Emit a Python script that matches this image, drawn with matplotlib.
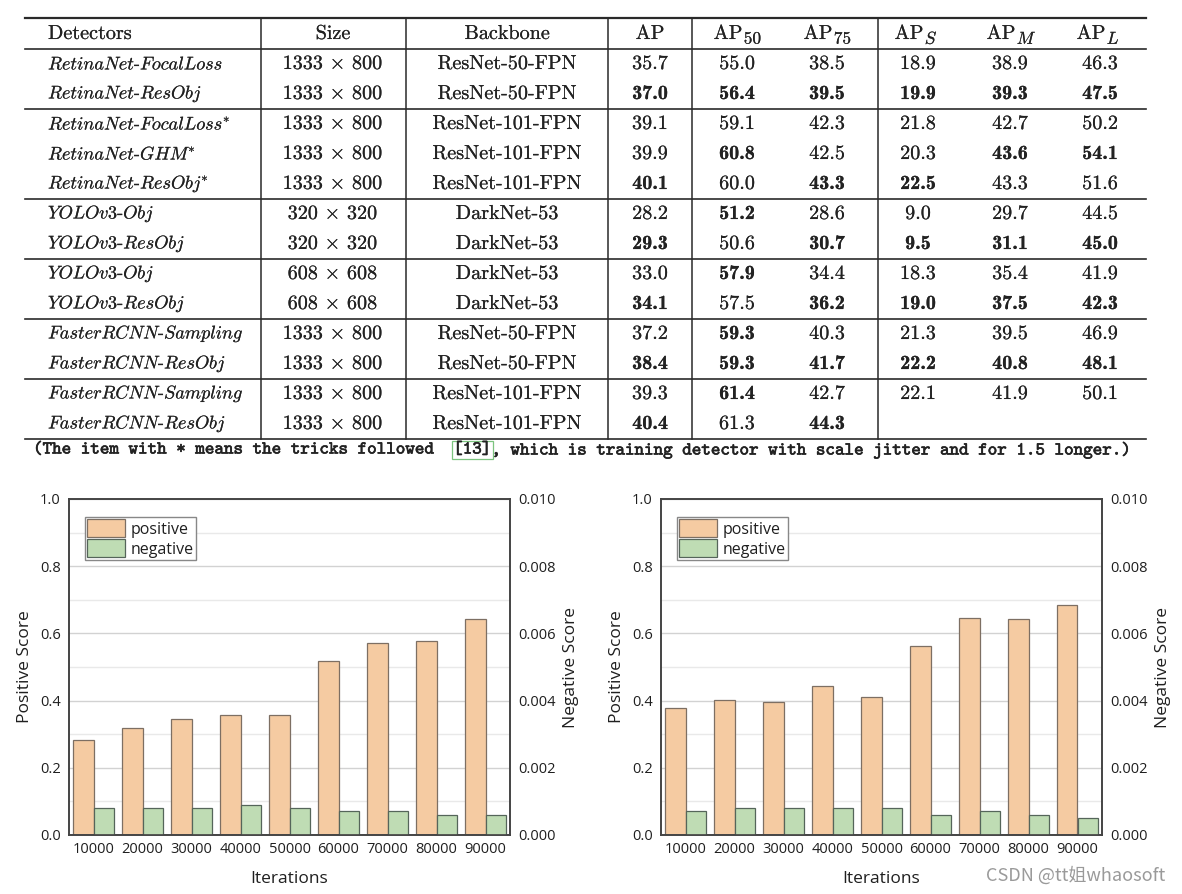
import matplotlib
matplotlib.use('Agg')
import matplotlib.pyplot as plt
import matplotlib.patheffects as pe
import numpy as np
from matplotlib.ticker import FormatStrFormatter

plt.rcParams['mathtext.fontset'] = 'cm'
plt.rcParams['font.family'] = ['Open Sans', 'DejaVu Sans']

# ---------------- table data ----------------
header = ['Detectors', 'Size', 'Backbone', 'AP', 'AP', 'AP', 'AP', 'AP', 'AP']
header_sub = ['', '', '', '', '50', '75', '$S$', '$M$', '$L$']
detectors = ['RetinaNet-FocalLoss', 'RetinaNet-ResObj',
             'RetinaNet-FocalLoss*', 'RetinaNet-GHM*', 'RetinaNet-ResObj*',
             'YOLOv3-Obj', 'YOLOv3-ResObj',
             'YOLOv3-Obj', 'YOLOv3-ResObj',
             'FasterRCNN-Sampling', 'FasterRCNN-ResObj',
             'FasterRCNN-Sampling', 'FasterRCNN-ResObj']
sizes = ['1333 x 800', '1333 x 800', '1333 x 800', '1333 x 800', '1333 x 800',
         '320 x 320', '320 x 320', '608 x 608', '608 x 608',
         '1333 x 800', '1333 x 800', '1333 x 800', '1333 x 800']
backbones = ['ResNet-50-FPN', 'ResNet-50-FPN',
             'ResNet-101-FPN', 'ResNet-101-FPN', 'ResNet-101-FPN',
             'DarkNet-53', 'DarkNet-53', 'DarkNet-53', 'DarkNet-53',
             'ResNet-50-FPN', 'ResNet-50-FPN', 'ResNet-101-FPN', 'ResNet-101-FPN']
ap = ['35.7', '37.0', '39.1', '39.9', '40.1', '28.2', '29.3', '33.0', '34.1', '37.2', '38.4', '39.3', '40.4']
ap50 = ['55.0', '56.4', '59.1', '60.8', '60.0', '51.2', '50.6', '57.9', '57.5', '59.3', '59.3', '61.4', '61.3']
ap75 = ['38.5', '39.5', '42.3', '42.5', '43.3', '28.6', '30.7', '34.4', '36.2', '40.3', '41.7', '42.7', '44.3']
aps = ['18.9', '19.9', '21.8', '20.3', '22.5', '9.0', '9.5', '18.3', '19.0', '21.3', '22.2', '22.1', '']
apm = ['38.9', '39.3', '42.7', '43.6', '43.3', '29.7', '31.1', '35.4', '37.5', '39.5', '40.8', '41.9', '']
apl = ['46.3', '47.5', '50.2', '54.1', '51.6', '44.5', '45.0', '41.9', '42.3', '46.9', '48.1', '50.1', '']
ap_bold = [0, 1, 0, 0, 1, 0, 1, 0, 1, 0, 1, 0, 1]
ap50_bold = [0, 1, 0, 1, 0, 1, 0, 1, 0, 1, 1, 1, 0]
ap75_bold = [0, 1, 0, 0, 1, 0, 1, 0, 1, 0, 1, 0, 1]
aps_bold = [0, 1, 0, 0, 1, 0, 1, 0, 1, 0, 1, 0, 0]
apm_bold = [0, 1, 0, 1, 0, 0, 1, 0, 1, 0, 1, 0, 0]
apl_bold = [0, 1, 0, 1, 0, 0, 1, 0, 1, 0, 1, 0, 0]
group_ends = [2, 5, 7, 9, 11, 13]
footnote_pre = '(The item with * means the tricks followed  '
footnote_ref = '[13]'
footnote_post = ', which is training detector with scale jitter and for 1.5 longer.)'

# ---------------- bar data ----------------
iterations = ['10000', '20000', '30000', '40000', '50000', '60000', '70000', '80000', '90000']
pos_left = [0.282, 0.318, 0.345, 0.358, 0.357, 0.517, 0.570, 0.577, 0.644]
neg_left = [0.0008, 0.0008, 0.0008, 0.0009, 0.0008, 0.0007, 0.0007, 0.0006, 0.0006]
pos_right = [0.378, 0.403, 0.395, 0.443, 0.411, 0.562, 0.647, 0.643, 0.686]
neg_right = [0.0007, 0.0008, 0.0008, 0.0008, 0.0008, 0.0006, 0.0007, 0.0006, 0.0005]

W, H = 1182, 894
fig = plt.figure(figsize=(W / 100, H / 100), dpi=100)

# ---------------- table ----------------
axt = fig.add_axes([0, 0, 1, 1])
axt.set_xlim(0, W)
axt.set_ylim(H, 0)
axt.axis('off')

line_c = '#2a2a2a'
x_left, x_right = 25, 1146
y_top, y_head = 18, 49
row_h = 30
vlines = [261, 406, 608, 692, 878]
axt.plot([x_left, x_right], [y_top, y_top], color=line_c, lw=1.6)
axt.plot([x_left, x_right], [y_head, y_head], color=line_c, lw=1.2)
for g in group_ends:
    yy = y_head + g * row_h
    axt.plot([x_left, x_right], [yy, yy], color=line_c, lw=1.2)
y_bot = y_head + group_ends[-1] * row_h
for vx in vlines:
    axt.plot([vx, vx], [y_top, y_bot], color=line_c, lw=1.1)

fs = 14.5
fs_name = 13.2
tc = '#222222'
heavy = [pe.withStroke(linewidth=0.12, foreground=tc)]
col_x = [48, 333, 507, 650, 737, 827, 918, 1010, 1100]
head_y = 34
for i, h in enumerate(header):
    if i == 0:
        axt.text(col_x[i], head_y, h, ha='left', va='center', fontsize=fs,
                 family='cmr10', color=tc, path_effects=heavy)
    elif header_sub[i] == '':
        axt.text(col_x[i], head_y, h, ha='center', va='center', fontsize=fs,
                 family='cmr10', color=tc, path_effects=heavy)
    else:
        t = axt.text(col_x[i] - 9, head_y, h, ha='center', va='center',
                     fontsize=fs, family='cmr10', color=tc, path_effects=heavy)
        axt.annotate(header_sub[i], xy=(1, 0.5), xycoords=t,
                     xytext=(1, -3.5), textcoords='offset points',
                     ha='left', va='center', fontsize=fs * 0.86,
                     family='cmr10', color=tc, path_effects=heavy)


def ital(name):
    star = name.endswith('*')
    base = name.rstrip('*')
    s = '-'.join(r'$\mathit{%s}$' % p for p in base.split('-'))
    if star:
        s += r'$^{*}$'
    return s


metrics = [(ap, ap_bold), (ap50, ap50_bold), (ap75, ap75_bold),
           (aps, aps_bold), (apm, apm_bold), (apl, apl_bold)]
for r in range(len(detectors)):
    yy = y_head + 15 + r * row_h
    axt.text(col_x[0], yy, ital(detectors[r]), ha='left', va='center',
             fontsize=fs_name, family='cmr10', color=tc, path_effects=heavy)
    axt.text(col_x[1], yy, sizes[r].replace(' x ', r' $\times$ '), ha='center',
             va='center', fontsize=fs, family='cmr10', color=tc,
             path_effects=heavy)
    axt.text(col_x[2], yy, backbones[r], ha='center', va='center',
             fontsize=fs, family='cmr10', color=tc, path_effects=heavy)
    for j, (vals, bolds) in enumerate(metrics):
        if vals[r] == '':
            continue
        fam = 'cmb10' if bolds[r] else 'cmr10'
        axt.text(col_x[3 + j], yy, vals[r], ha='center', va='center',
                 fontsize=fs, family=fam, color=tc, path_effects=heavy)

# footnote (typewriter-like, monospaced)
foot_y = 450
fx0, fx1 = 33, 1131
nchar = len(footnote_pre) + len(footnote_ref) + len(footnote_post)
adv = (fx1 - fx0) / nchar
ffs = adv / 0.525 * 72 / 100
foot_heavy = [pe.withStroke(linewidth=0.45, foreground=tc)]
axt.text(fx0, foot_y, footnote_pre, ha='left', va='center', fontsize=ffs,
         family='cmtt10', color=tc, path_effects=foot_heavy)
xr = fx0 + len(footnote_pre) * adv
axt.text(xr, foot_y, footnote_ref, ha='left', va='center', fontsize=ffs,
         family='cmtt10', color=tc, path_effects=foot_heavy,
         bbox=dict(boxstyle='square,pad=0.08', fc='none', ec='#7cc47f', lw=0.9))
xp = xr + len(footnote_ref) * adv
axt.text(xp, foot_y, footnote_post, ha='left', va='center', fontsize=ffs,
         family='cmtt10', color=tc, path_effects=foot_heavy)

# ---------------- bar charts ----------------
pos_color, pos_edge = '#f5cba2', '#7d6f63'
neg_color, neg_edge = '#bfdcb4', '#55655a'
spine_c = '#444444'
txt_c = '#1f1f1f'


def bar_panel(rect, pos, neg):
    ax = fig.add_axes(rect)
    x = np.arange(len(iterations))
    w = 0.41
    ax.set_xlim(-0.5, len(iterations) - 0.5)
    ax.set_ylim(0, 1.0)
    ax.set_yticks(np.arange(0, 1.01, 0.2))
    ax.set_yticks(np.arange(0.1, 1.0, 0.2), minor=True)
    ax.yaxis.set_major_formatter(FormatStrFormatter('%.1f'))
    ax.grid(axis='y', which='major', color='#d2d2d2', lw=1.0)
    ax.grid(axis='y', which='minor', color='#e9e9e9', lw=1.0)
    ax.set_axisbelow(True)
    b1 = ax.bar(x - w / 2, pos, w, color=pos_color, edgecolor=pos_edge, lw=0.9)
    ax.set_xticks(x)
    ax.set_xticklabels(iterations)
    ax.tick_params(axis='both', which='both', length=0, labelsize=10.5,
                   colors=txt_c)
    ax.tick_params(axis='x', pad=5)
    ax.tick_params(axis='y', pad=6)
    ax.set_xlabel('Iterations', fontsize=12.5, labelpad=10, color=txt_c)
    ax.set_ylabel('Positive Score', fontsize=12.5, labelpad=5, color=txt_c)

    ax2 = ax.twinx()
    ax2.set_ylim(0, 0.01)
    ax2.set_yticks(np.arange(0, 0.0101, 0.002))
    ax2.yaxis.set_major_formatter(FormatStrFormatter('%.3f'))
    b2 = ax2.bar(x + w / 2, neg, w, color=neg_color, edgecolor=neg_edge, lw=0.9)
    ax2.tick_params(axis='y', length=0, labelsize=10.5, pad=6, colors=txt_c)
    ax2.set_ylabel('Negative Score', fontsize=12.5, labelpad=5, color=txt_c)
    for a in (ax, ax2):
        for s in a.spines.values():
            s.set_color(spine_c)
            s.set_linewidth(1.2)
    leg = ax2.legend([b1, b2], ['positive', 'negative'], loc='upper left',
                     bbox_to_anchor=(0.036, 0.945), borderaxespad=0,
                     fontsize=11.5, fancybox=False, edgecolor='#888888',
                     framealpha=1, borderpad=0.12, handlelength=2.4,
                     handleheight=1.35, labelspacing=0.1, handletextpad=0.35)
    leg.get_frame().set_linewidth(1.0)
    for txt in leg.get_texts():
        txt.set_color(txt_c)
    return ax


fb = (H - 835) / H
fh = (835 - 499) / H
bar_panel([69 / W, fb, 441 / W, fh], pos_left, neg_left)
bar_panel([661 / W, fb, 441 / W, fh], pos_right, neg_right)

fig.text(1165 / W, (H - 876) / H, 'CSDN @tt姐whaosoft', ha='right', va='center',
         fontsize=13, color='#9a9a9a', family=['Noto Sans CJK SC', 'DejaVu Sans'])

fig.savefig('out.png', dpi=100)
